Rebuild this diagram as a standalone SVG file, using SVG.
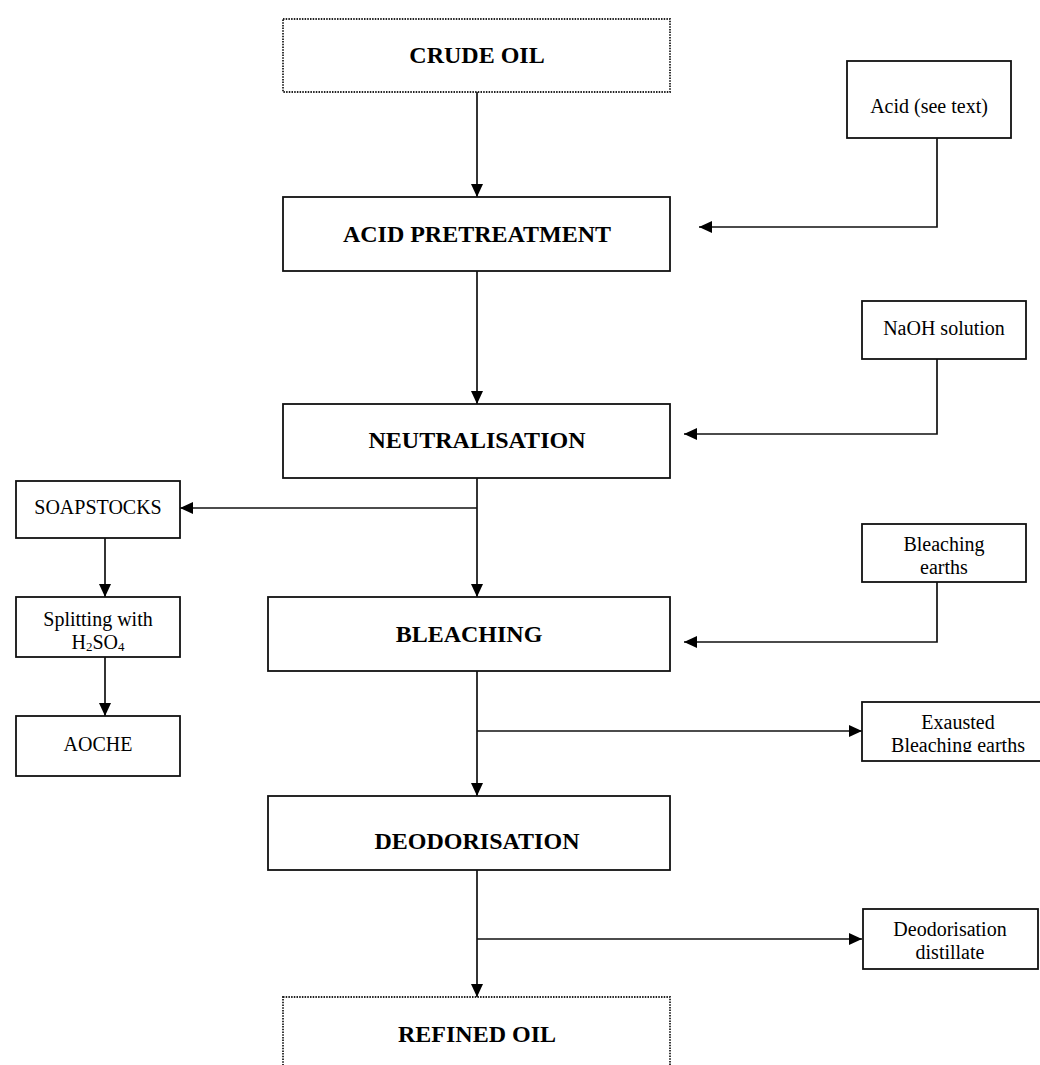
<svg xmlns="http://www.w3.org/2000/svg" width="1040" height="1065" viewBox="0 0 1040 1065">
<style>
.box{fill:#fff;stroke:#111;stroke-width:1.8}
.dot{fill:#fff;stroke:#222;stroke-width:1.8;stroke-dasharray:1.5 1.2}
.big{font-family:"Liberation Serif","Times New Roman",serif;font-size:24px;font-weight:bold;text-anchor:middle;fill:#000}
.sm{font-family:"Liberation Serif","Times New Roman",serif;font-size:20px;text-anchor:middle;fill:#000}
.ln{fill:none;stroke:#111;stroke-width:1.7}
</style>
<defs>
<marker id="ah" viewBox="0 0 13 12" refX="13" refY="6" markerWidth="13" markerHeight="12" markerUnits="userSpaceOnUse" orient="auto">
<path d="M0,0 L13,6 L0,12 Z" fill="#000"/>
</marker>
<clipPath id="exclip"><rect x="862" y="701" width="178" height="51"/></clipPath>
</defs>
<rect width="1040" height="1065" fill="#fff"/>
<g id="connectors">
<line class="ln" x1="477" y1="92" x2="477" y2="197" marker-end="url(#ah)"/>
<polyline class="ln" points="937,138 937,227 699,227" marker-end="url(#ah)"/>
<line class="ln" x1="477" y1="271" x2="477" y2="404" marker-end="url(#ah)"/>
<polyline class="ln" points="937,359 937,434 684,434" marker-end="url(#ah)"/>
<line class="ln" x1="477" y1="478" x2="477" y2="597" marker-end="url(#ah)"/>
<line class="ln" x1="477" y1="508" x2="180" y2="508" marker-end="url(#ah)"/>
<line class="ln" x1="105" y1="538" x2="105" y2="597" marker-end="url(#ah)"/>
<line class="ln" x1="105" y1="657" x2="105" y2="716" marker-end="url(#ah)"/>
<polyline class="ln" points="937,582 937,642 684,642" marker-end="url(#ah)"/>
<line class="ln" x1="477" y1="671" x2="477" y2="796" marker-end="url(#ah)"/>
<line class="ln" x1="477" y1="731" x2="862" y2="731" marker-end="url(#ah)"/>
<line class="ln" x1="477" y1="870" x2="477" y2="997" marker-end="url(#ah)"/>
<line class="ln" x1="477" y1="939" x2="862" y2="939" marker-end="url(#ah)"/>
</g>
<g id="crude-oil">
<rect class="dot" x="283" y="19" width="387" height="73"/>
<text class="big" x="477" y="63">CRUDE OIL</text>
</g>
<g id="acid">
<rect class="box" x="847" y="61" width="164" height="77"/>
<text class="sm" x="929" y="113">Acid (see text)</text>
</g>
<g id="acid-pretreatment">
<rect class="box" x="283" y="197" width="387" height="74"/>
<text class="big" x="477" y="242">ACID PRETREATMENT</text>
</g>
<g id="naoh">
<rect class="box" x="862" y="301" width="164" height="58"/>
<text class="sm" x="944" y="335">NaOH solution</text>
</g>
<g id="neutralisation">
<rect class="box" x="283" y="404" width="387" height="74"/>
<text class="big" x="477" y="448">NEUTRALISATION</text>
</g>
<g id="soapstocks">
<rect class="box" x="16" y="481" width="164" height="57"/>
<text class="sm" x="98" y="514">SOAPSTOCKS</text>
</g>
<g id="splitting">
<rect class="box" x="16" y="597" width="164" height="60"/>
<text class="sm" x="98" y="626">Splitting with</text>
<text class="sm" x="98" y="649">H<tspan font-size="13" dy="2">2</tspan><tspan dy="-2">SO</tspan><tspan font-size="13" dy="2">4</tspan></text>
</g>
<g id="aoche">
<rect class="box" x="16" y="716" width="164" height="60"/>
<text class="sm" x="98" y="751">AOCHE</text>
</g>
<g id="bleaching-earths">
<rect class="box" x="862" y="524" width="164" height="58"/>
<text class="sm" x="944" y="551">Bleaching</text>
<text class="sm" x="944" y="574">earths</text>
</g>
<g id="bleaching">
<rect class="box" x="268" y="597" width="402" height="74"/>
<text class="big" x="469" y="642">BLEACHING</text>
</g>
<g id="exausted">
<rect class="box" x="862" y="702" width="200" height="59"/>
<g clip-path="url(#exclip)">
<text class="sm" x="958" y="729">Exausted</text>
<text class="sm" x="958" y="752">Bleaching earths</text>
</g>
</g>
<g id="deodorisation">
<rect class="box" x="268" y="796" width="402" height="74"/>
<text class="big" x="477" y="849">DEODORISATION</text>
</g>
<g id="distillate">
<rect class="box" x="863" y="909" width="175" height="60"/>
<text class="sm" x="950" y="936">Deodorisation</text>
<text class="sm" x="950" y="959">distillate</text>
</g>
<g id="refined-oil">
<rect class="dot" x="283" y="997" width="387" height="90"/>
<text class="big" x="477" y="1042">REFINED OIL</text>
</g>
</svg>
